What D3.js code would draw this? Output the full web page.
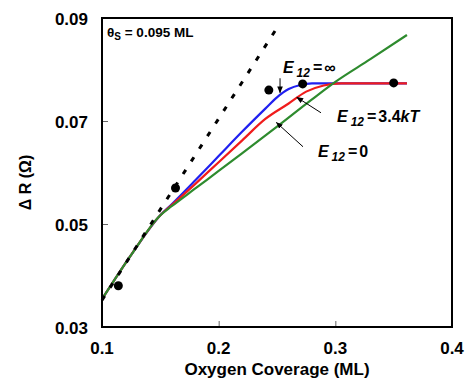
<!DOCTYPE html>
<html>
<head>
<meta charset="utf-8">
<script src="https://cdn.jsdelivr.net/npm/d3@7"></script>
<style>
  body { margin: 0; background: #fff; }
  text { font-family: "Liberation Sans", Arial, sans-serif; font-weight: bold; }
</style>
</head>
<body>
<div id="chart"></div>
<script>
// Data (coverage in ML, resistance change in Ohm)
const blueCurve = [
  [0.1, 0.0354], [0.125, 0.044], [0.15, 0.0517], [0.16, 0.0539], [0.18, 0.0585],
  [0.2, 0.0632], [0.22, 0.0679], [0.24, 0.0724], [0.25, 0.0746], [0.26, 0.0762],
  [0.27, 0.077], [0.28, 0.0773], [0.3614, 0.0773]
];
const redCurve = [
  [0.1, 0.0354], [0.125, 0.044], [0.15, 0.0517], [0.16, 0.0537], [0.18, 0.0578],
  [0.2, 0.062], [0.22, 0.0662], [0.24, 0.0704], [0.26, 0.0734], [0.275, 0.0757],
  [0.29, 0.0769], [0.305, 0.0773], [0.3614, 0.0773]
];
const greenCurve = [
  [0.1, 0.0354], [0.125, 0.044], [0.15, 0.0517], [0.16, 0.0535], [0.18, 0.0569],
  [0.2, 0.0603], [0.22, 0.0637], [0.25, 0.0689], [0.28, 0.0742], [0.3, 0.0776],
  [0.33, 0.082], [0.3614, 0.0867]
];
const dashedLine = [[0.1, 0.0352], [0.2526, 0.089]];
const measured = [[0.114, 0.038], [0.163, 0.057], [0.243, 0.076], [0.272, 0.0772], [0.35, 0.0774]];

const xTicks = [0.1, 0.2, 0.3, 0.4];
const yTicks = [0.03, 0.05, 0.07, 0.09];

// label anchor [x, y], value text, arrow from [x, y] to [x, y]
const curveLabels = [
  { at: [0.2551, 0.0793], value: "∞", from: [0.2526, 0.0783], to: [0.2526, 0.0755] },
  { at: [0.3014, 0.0698], value: "3.4kT", from: [0.2877, 0.0716], to: [0.267, 0.0746] },
  { at: [0.2851, 0.063], value: "0", from: [0.2723, 0.065], to: [0.2495, 0.0697] }
];

// Define colors
var lineColor = "#000";
var blueColor = "#2020f0";
var redColor = "#f01c1c";
var greenColor = "#2e8b2e";

// Define dimensions
const width = 465;
const height = 379;
const plotLeft = 102;
const plotRight = 452;
const plotTop = 18;
const plotBottom = 327;
const tickLen = 6;

const svg = d3.select("#chart")
  .append("svg")
  .attr("width", width)
  .attr("height", height);

const x = d3.scaleLinear().domain([0.1, 0.4]).range([plotLeft, plotRight]);
const y = d3.scaleLinear().domain([0.03, 0.09]).range([plotBottom, plotTop]);

svg.append("defs")
  .append("marker")
  .attr("id", "head")
  .attr("viewBox", "0 0 10 10")
  .attr("refX", 9)
  .attr("refY", 5)
  .attr("markerWidth", 7)
  .attr("markerHeight", 7)
  .attr("orient", "auto")
  .append("path")
  .attr("d", "M0,1L10,5L0,9Z")
  .attr("fill", lineColor);

/*
Axes: ticks point inward, labels drawn by hand so they sit like the original.
*/
svg.append("g")
  .attr("transform", `translate(0,${plotBottom})`)
  .call(d3.axisBottom(x).tickValues(xTicks.slice(1, -1)).tickSize(-tickLen).tickFormat(""))
  .call(g => g.select(".domain").remove())
  .selectAll("line").attr("stroke", "#666").attr("stroke-width", 1);

svg.append("g")
  .attr("transform", `translate(${plotLeft},0)`)
  .call(d3.axisLeft(y).tickValues(yTicks.slice(1, -1)).tickSize(-tickLen).tickFormat(""))
  .call(g => g.select(".domain").remove())
  .selectAll("line").attr("stroke", "#666").attr("stroke-width", 1);

svg.selectAll("text.xtick")
  .data(xTicks)
  .enter()
  .append("text")
  .attr("class", "xtick")
  .attr("x", d => x(d))
  .attr("y", 354)
  .attr("text-anchor", "middle")
  .attr("font-size", "17px")
  .text(d => d3.format(".1f")(d));

svg.selectAll("text.ytick")
  .data(yTicks)
  .enter()
  .append("text")
  .attr("class", "ytick")
  .attr("x", 88)
  .attr("y", d => y(d) + 7)
  .attr("text-anchor", "end")
  .attr("font-size", "17px")
  .text(d => d3.format(".2f")(d));

svg.append("text")
  .attr("x", (plotLeft + plotRight) / 2)
  .attr("y", 375)
  .attr("text-anchor", "middle")
  .attr("font-size", "17px")
  .text("Oxygen Coverage (ML)");

svg.append("text")
  .attr("transform", `translate(31,${(plotTop + plotBottom) / 2 + 10}) rotate(-90)`)
  .attr("text-anchor", "middle")
  .attr("font-size", "16px")
  .text("Δ R (Ω)");

/*
Model curves and data points.
*/
const line = d3.line()
  .x(d => x(d[0]))
  .y(d => y(d[1]))
  .curve(d3.curveMonotoneX);

[[blueCurve, blueColor], [redCurve, redColor], [greenCurve, greenColor]].forEach(([data, color]) => {
  svg.append("path")
    .datum(data)
    .attr("d", line)
    .attr("fill", "none")
    .attr("stroke", color)
    .attr("stroke-width", 2.2);
});

svg.append("path")
  .datum(dashedLine)
  .attr("d", line)
  .attr("fill", "none")
  .attr("stroke", lineColor)
  .attr("stroke-width", 3)
  .attr("stroke-dasharray", "5,10");

svg.selectAll("circle")
  .data(measured)
  .enter()
  .append("circle")
  .attr("cx", d => x(d[0]))
  .attr("cy", d => y(d[1]))
  .attr("r", 4.5)
  .attr("fill", lineColor);

/*
Curve labels with arrows.
*/
curveLabels.forEach(lbl => {
  svg.append("line")
    .attr("x1", x(lbl.from[0]))
    .attr("y1", y(lbl.from[1]))
    .attr("x2", x(lbl.to[0]))
    .attr("y2", y(lbl.to[1]))
    .attr("stroke", lineColor)
    .attr("stroke-width", 1)
    .attr("marker-end", "url(#head)");

  let t = svg.append("text")
    .attr("x", x(lbl.at[0]))
    .attr("y", y(lbl.at[1]))
    .attr("font-size", "16px");
  t.append("tspan").attr("font-style", "italic").text("E");
  t.append("tspan").attr("font-style", "italic").attr("font-size", "12px")
    .attr("dx", 3).attr("dy", 4).text("12");
  t.append("tspan").attr("dx", 3).attr("dy", -4).text("=");
  if (lbl.value === "3.4kT") {
    t.append("tspan").attr("dx", 2).text("3.4");
    t.append("tspan").attr("font-style", "italic").text("kT");
  } else {
    t.append("tspan").attr("dx", 2).text(lbl.value);
  }
});

// Frame and inset annotation
svg.append("rect")
  .attr("x", plotLeft)
  .attr("y", plotTop)
  .attr("width", plotRight - plotLeft)
  .attr("height", plotBottom - plotTop)
  .attr("fill", "none")
  .attr("stroke", lineColor)
  .attr("stroke-width", 2);

let theta = svg.append("text")
  .attr("x", plotLeft + 5)
  .attr("y", plotTop + 19)
  .attr("font-size", "13.5px");
theta.append("tspan").text("θ");
theta.append("tspan").attr("font-size", "10px").attr("dy", 3).text("S");
theta.append("tspan").attr("dy", -3).text(" = 0.095 ML");
</script>
</body>
</html>
